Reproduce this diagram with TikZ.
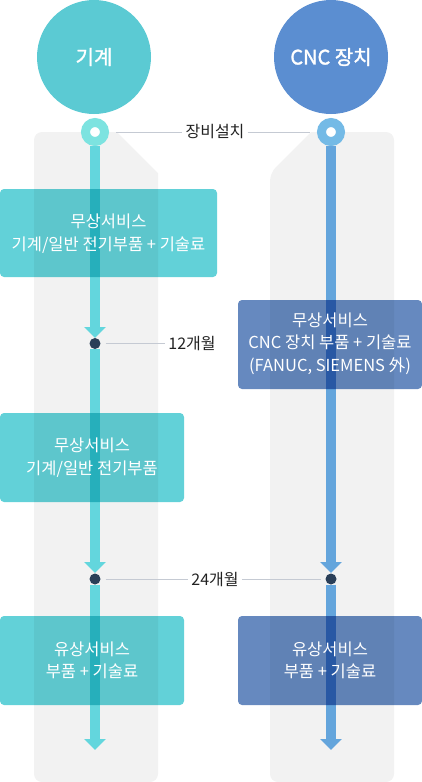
\documentclass[tikz,border=0pt]{standalone}
\usepackage{fontspec}
\setmainfont{Noto Sans CJK KR}
\newfontfamily\headfont[FakeBold=1.5]{Noto Sans CJK KR}
\usetikzlibrary{arrows.meta}
\definecolor{cMach}{HTML}{5BCAD3}
\definecolor{cCnc}{HTML}{5B8ED1}
\definecolor{ringM}{HTML}{7DE3E0}
\definecolor{ringC}{HTML}{74BAE6}
\definecolor{lineM}{HTML}{63D6DD}
\definecolor{lineC}{HTML}{64A5DC}
\definecolor{boxM}{HTML}{62D1D8}
\definecolor{boxC}{HTML}{6689BF}
\definecolor{panelG}{HTML}{F2F2F2}
\definecolor{dotC}{HTML}{2A3F58}
\definecolor{guide}{HTML}{C5CAD3}
\definecolor{txtD}{HTML}{222222}
\begin{document}
\begin{tikzpicture}[x=1pt,y=-1pt,
  bigc/.style={circle, minimum size=114pt, inner sep=0pt, text=white,
    font=\headfont\fontsize{20}{24}\selectfont},
  ringn/.style={circle, minimum size=19pt, inner sep=0pt, fill=white, line width=9pt},
  dotn/.style={circle, minimum size=11pt, inner sep=0pt, fill=dotC},
  flowM/.style={draw=lineM, line width=10pt, -{Triangle[width=21pt,length=11pt]}},
  flowC/.style={draw=lineC, line width=10pt, -{Triangle[width=21pt,length=11pt]}},
  boxtext/.style={align=center, text=white, font=\fontsize{16.5}{22.5}\selectfont, inner sep=0pt},
  lbl/.style={text=txtD, font=\fontsize{16}{19}\selectfont, inner sep=3pt},
  guideline/.style={draw=guide, line width=1pt},
  panel/.style={fill=panelG}]
\useasboundingbox (0,0) rectangle (422,782);
% gray panels
\fill[panel] (96,782) [rounded corners=8] -- (34,782) -- (34,132) -- (110,132) [sharp corners] -- (117,132) -- (158,173) [rounded corners=8] -- (158,782) -- cycle;
\fill[panel] (332,782) [rounded corners=8] -- (270,782) -- (270,173) [sharp corners] -- (311,132) -- (320,132) [rounded corners=8] -- (394,132) -- (394,782) -- cycle;
% header circles
\node[bigc, fill=cMach] (mach) at (94,57) {기계};
\node[bigc, fill=cCnc] (cnc) at (331,57) {CNC 장치};
% rings and dots
\node[ringn, draw=ringM] (rM) at (95,132) {};
\node[ringn, draw=ringC] (rC) at (331,132) {};
\node[dotn] (dM1) at (95,343.5) {};
\node[dotn] (dM2) at (95,579) {};
\node[dotn] (dC2) at (331,579) {};
\coordinate (tM1) at (95,338);
\coordinate (tM2) at (95,573);
\coordinate (tM3) at (95,750);
\coordinate (tC2) at (331,573);
\coordinate (tC3) at (331,750);
% flow lines
\draw[flowM] (rM) -- (tM1);
\draw[flowM] (dM1) -- (tM2);
\draw[flowM] (dM2) -- (tM3);
\draw[flowC] (rC) -- (tC2);
\draw[flowC] (dC2) -- (tC3);
% boxes (multiplied over lines and panels)
\begin{scope}[blend mode=multiply]
\fill[boxM, rounded corners=4] (0,189) rectangle (217,277);
\fill[boxM, rounded corners=4] (0,413) rectangle (184,502);
\fill[boxM, rounded corners=4] (0,616) rectangle (184,705);
\fill[boxC, rounded corners=4] (238,300) rectangle (422,389);
\fill[boxC, rounded corners=4] (238,616) rectangle (422,705);
\end{scope}
\node[boxtext] (b1) at (108.5,233.5) {무상서비스\\기계/일반 전기부품 + 기술료};
\node[boxtext] (b2) at (92,457.5) {무상서비스\\기계/일반 전기부품};
\node[boxtext] (b3) at (92,660.5) {유상서비스\\부품 + 기술료};
\node[boxtext] (c1) at (330,343.5) {무상서비스\\CNC 장치 부품 + 기술료\\(FANUC, SIEMENS 外)};
\node[boxtext] (c3) at (330,660.5) {유상서비스\\부품 + 기술료};
% labels
\node[lbl] (lInst) at (215,132) {장비설치};
\node[lbl] (l12) at (192,343.5) {12개월};
\node[lbl] (l24) at (215,579) {24개월};
\draw[guideline, shorten <=7pt] (rM) -- (lInst);
\draw[guideline, shorten >=7pt] (lInst) -- (rC);
\draw[guideline, shorten <=5pt] (dM1) -- (l12);
\draw[guideline, shorten <=5pt] (dM2) -- (l24);
\draw[guideline, shorten >=4pt] (l24) -- (dC2);
\end{tikzpicture}
\end{document}
